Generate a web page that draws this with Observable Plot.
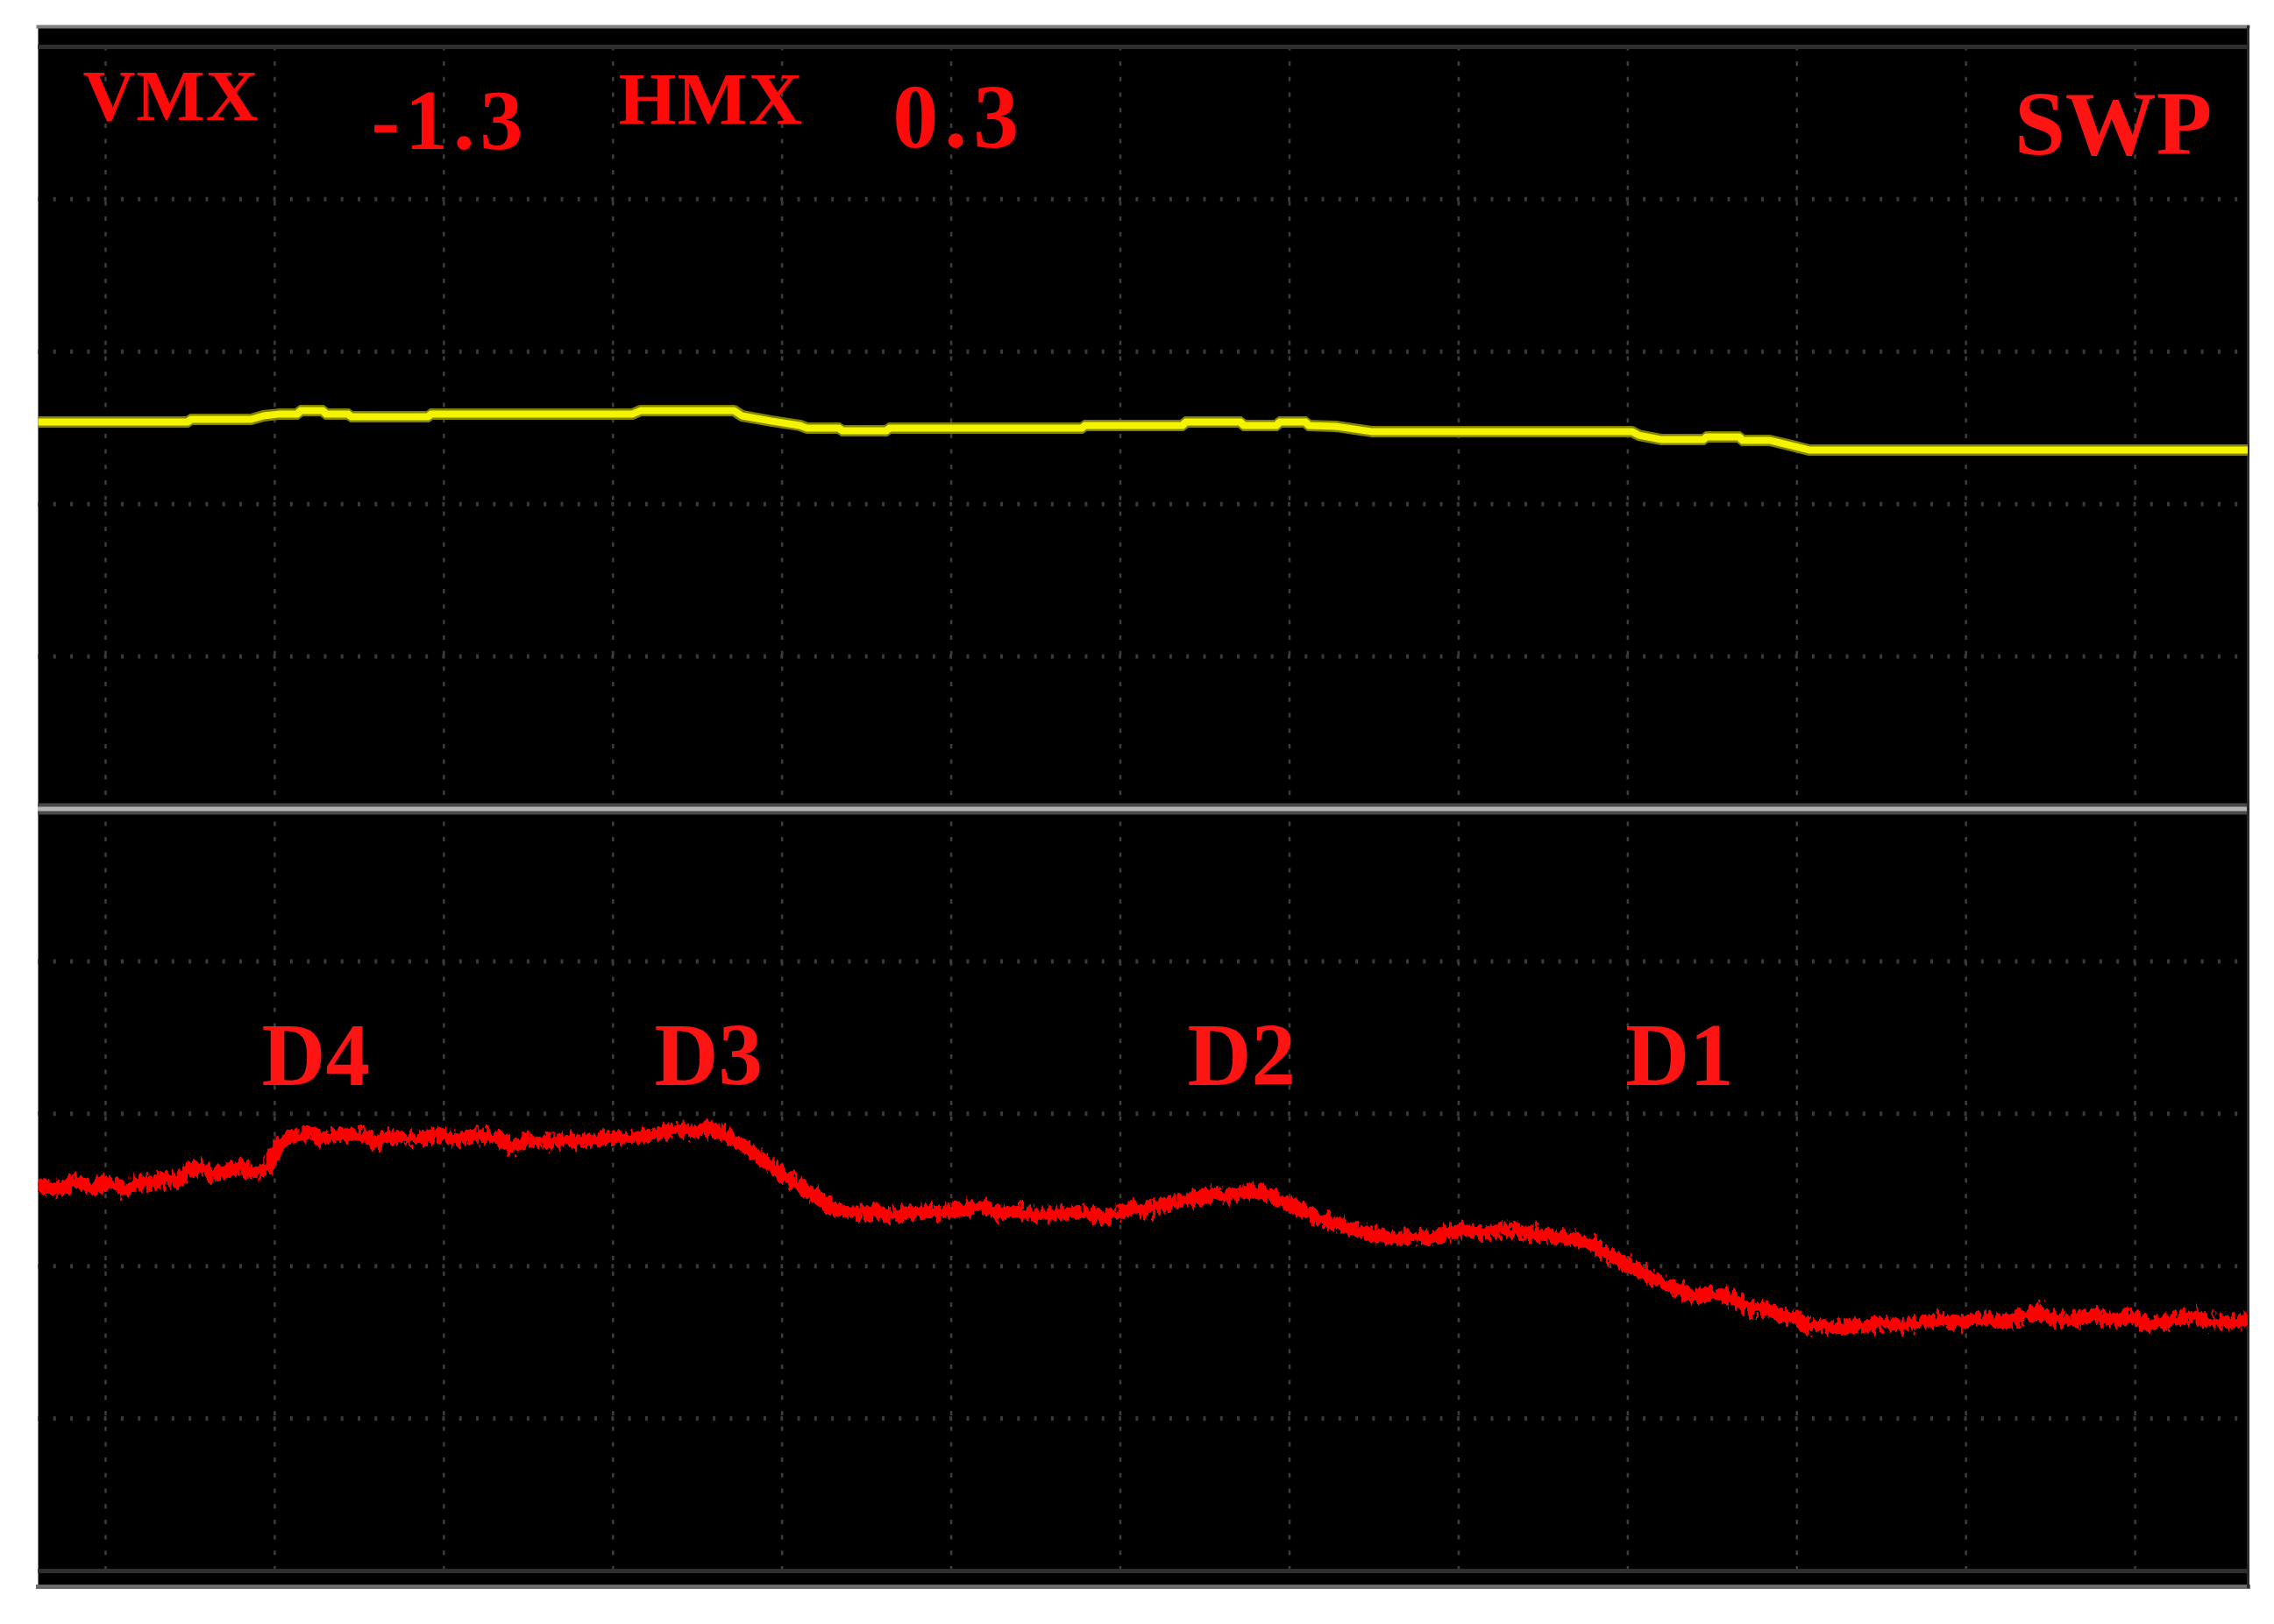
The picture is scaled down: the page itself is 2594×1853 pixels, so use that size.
<!DOCTYPE html>
<html>
<head>
<meta charset="utf-8">
<script src="https://cdn.jsdelivr.net/npm/d3@7"></script>
<script src="https://cdn.jsdelivr.net/npm/@observablehq/plot@0.6"></script>
<style>
  html, body { margin: 0; padding: 0; background: #ffffff; }
  #chart svg { display: block; }
</style>
</head>
<body>
<div id="chart"></div>
<script>
// Screen units: x and y in oscilloscope divisions (grid lines at integers)
const xDomain = [-0.399, 12.668];
const yDomain = [-0.1035, 10.132];
const xGrid = [0,1,2,3,4,5,6,7,8,9,10,11,12];
const yGrid = [1,2,3,4,6,7,8,9];

// Yellow trace (upper channel)
const yellowX = [-0.399,0.492,0.498,0.860,0.933,1.031,1.140,1.146,1.291,1.296,1.441,1.446,1.913,1.918,3.115,3.162,3.716,3.763,3.934,4.105,4.146,4.343,4.349,4.623,4.628,5.779,5.784,6.375,6.380,6.717,6.722,6.930,6.935,7.101,7.106,7.272,7.484,9.024,9.065,9.195,9.454,9.459,9.666,9.671,9.838,9.967,10.071,12.667];
const yellowY = [7.539,7.539,7.556,7.556,7.579,7.591,7.591,7.613,7.613,7.591,7.591,7.573,7.573,7.591,7.591,7.613,7.613,7.579,7.545,7.516,7.499,7.499,7.481,7.481,7.499,7.499,7.516,7.516,7.539,7.539,7.516,7.516,7.539,7.539,7.516,7.510,7.476,7.476,7.452,7.424,7.424,7.441,7.441,7.418,7.418,7.384,7.355,7.355];

// Red trace (lower channel)
const redX = [-0.399,-0.301,-0.171,-0.083,0,0.109,0.197,0.280,0.368,0.409,0.472,0.560,0.622,0.710,0.798,0.860,0.928,0.980,1.031,1.099,1.161,1.213,1.270,1.353,1.441,1.550,1.591,1.653,1.762,1.871,1.980,2.084,2.172,2.301,2.410,2.514,2.602,2.731,2.814,2.954,3.115,3.239,3.374,3.473,3.545,3.602,3.675,3.758,3.846,3.939,4.022,4.105,4.193,4.260,4.323,4.431,4.535,4.665,4.768,4.872,4.965,5.079,5.178,5.287,5.395,5.494,5.608,5.753,5.909,5.986,6.085,6.116,6.220,6.328,6.437,6.546,6.634,6.759,6.867,6.971,7.075,7.184,7.292,7.401,7.505,7.614,7.723,7.826,7.930,8.039,8.137,8.257,8.370,8.469,8.578,8.682,8.785,8.894,9.003,9.112,9.226,9.319,9.407,9.511,9.615,9.708,9.811,9.889,9.982,10.050,10.143,10.257,10.371,10.511,10.625,10.739,10.879,10.993,11.061,11.174,11.289,11.429,11.496,11.610,11.750,11.864,11.978,12.092,12.206,12.346,12.434,12.553,12.667];
const redY = [2.542,2.501,2.559,2.513,2.559,2.501,2.553,2.542,2.588,2.542,2.616,2.657,2.599,2.628,2.657,2.611,2.639,2.685,2.812,2.846,2.858,2.898,2.829,2.858,2.869,2.846,2.800,2.846,2.841,2.841,2.869,2.829,2.858,2.846,2.783,2.829,2.818,2.829,2.818,2.841,2.835,2.864,2.892,2.887,2.910,2.887,2.858,2.800,2.726,2.657,2.576,2.530,2.467,2.415,2.375,2.352,2.358,2.335,2.352,2.358,2.358,2.369,2.392,2.352,2.358,2.335,2.340,2.352,2.323,2.346,2.392,2.363,2.392,2.421,2.444,2.473,2.461,2.490,2.473,2.421,2.369,2.306,2.271,2.237,2.208,2.185,2.197,2.185,2.220,2.237,2.220,2.237,2.225,2.214,2.185,2.179,2.139,2.070,2.018,1.938,1.880,1.834,1.806,1.823,1.794,1.725,1.725,1.679,1.668,1.610,1.610,1.593,1.610,1.622,1.610,1.633,1.645,1.622,1.662,1.639,1.650,1.708,1.662,1.639,1.679,1.645,1.668,1.622,1.639,1.679,1.639,1.633,1.645];

// Peak labels on the lower trace
const peakLabels = ["D4","D3","D2","D1"];
const peakLabelX = [0.923,3.245,6.396,8.987];
const peakLabelY = [3.191,3.191,3.191,3.191];

// Screen readouts
const readoutText = ["VMX","-1.3","HMX","0.3"];
const readoutX = [-0.135,1.570,3.032,4.654];
const readoutY = [9.517,9.330,9.488,9.340];
const readoutSize = [83,98,85,104];
const readoutSpacing = [1,6,1,7];
const modeText = ["SWP"];
const modeX = [12.455];
const modeY = [9.298];

const yellow = yellowX.map((x,i)=>({x, y: yellowY[i]}));
const red = redX.map((x,i)=>({x, y: redY[i]}));
const peaks = peakLabels.map((t,i)=>({t, x: peakLabelX[i], y: peakLabelY[i]}));
const readouts = readoutText.map((t,i)=>({t, x: readoutX[i], y: readoutY[i], s: readoutSize[i]}));
const modes = modeText.map((t,i)=>({t, x: modeX[i], y: modeY[i]}));

const serif = "'Liberation Serif', 'Times New Roman', serif";

const chart = Plot.plot({
  width: 2594,
  height: 1853,
  marginLeft: 43,
  marginRight: 30,
  marginTop: 30,
  marginBottom: 43,
  x: {domain: xDomain, axis: null},
  y: {domain: yDomain, axis: null},
  style: {background: "#ffffff"},
  marks: [
    Plot.frame({fill: "#000000"}),
    // grid
    Plot.ruleX(xGrid, {y1: 0, y2: 10, stroke: "#3d3d3d", strokeWidth: 2.5, strokeDasharray: "5,12.7"}),
    Plot.ruleY(yGrid, {x1: xDomain[0], x2: xDomain[1], stroke: "#3a3a3a", strokeWidth: 5, strokeDasharray: "3,16.29", strokeDashoffset: 1.5}),
    Plot.ruleY([0, 10], {stroke: "#2f2f2f", strokeWidth: 5}),
    Plot.ruleY([5], {stroke: "#4a4a4a", strokeWidth: 13}),
    Plot.ruleY([5], {stroke: "#b4b4b4", strokeWidth: 5}),
    Plot.frame({anchor: "top", stroke: "#7e7e7e", strokeWidth: 4}),
    Plot.frame({anchor: "bottom", stroke: "#6c6c6c", strokeWidth: 5}),
    Plot.frame({anchor: "right", stroke: "#2c2c2c", strokeWidth: 3}),
    // traces
    Plot.line(yellow, {x: "x", y: "y", stroke: "#858400", strokeWidth: 13, strokeLinejoin: "miter", strokeLinecap: "butt", curve: "linear", clip: true}),
    Plot.line(yellow, {x: "x", y: "y", stroke: "#f4f400", strokeWidth: 8, strokeLinejoin: "miter", strokeLinecap: "butt", curve: "linear", clip: true}),
    Plot.line(red, {x: "x", y: "y", stroke: "#ff0000", strokeWidth: 15, strokeLinejoin: "bevel", strokeLinecap: "butt", curve: "linear", clip: true}),
    // text
    Plot.text(peaks, {x: "x", y: "y", text: "t", textAnchor: "start", lineAnchor: "bottom", fill: "#ff1414", fontSize: 101, fontWeight: "bold", fontFamily: serif}),
    Plot.text(readouts, {x: "x", y: "y", text: "t", textAnchor: "start", lineAnchor: "bottom", fill: "#ff0a0a", fontSize: d => d.s, fontWeight: "bold", fontFamily: serif}),
    Plot.text(modes, {x: "x", y: "y", text: "t", textAnchor: "end", lineAnchor: "bottom", fill: "#ff1414", fontSize: 104, fontWeight: "bold", fontFamily: serif})
  ]
});

// Oscilloscope trace noise look (visual filter only)
const ns = "http://www.w3.org/2000/svg";
const defs = document.createElementNS(ns, "defs");
const filter = document.createElementNS(ns, "filter");
filter.setAttribute("id", "scopeNoise");
filter.setAttribute("x", "-2%");
filter.setAttribute("y", "-20%");
filter.setAttribute("width", "104%");
filter.setAttribute("height", "140%");
filter.setAttribute("color-interpolation-filters", "sRGB");
const turb = document.createElementNS(ns, "feTurbulence");
turb.setAttribute("type", "fractalNoise");
turb.setAttribute("baseFrequency", "0.22 0.09");
turb.setAttribute("numOctaves", "2");
turb.setAttribute("seed", "7");
turb.setAttribute("result", "t");
const cm = document.createElementNS(ns, "feColorMatrix");
cm.setAttribute("in", "t");
cm.setAttribute("type", "matrix");
cm.setAttribute("values", "0 0 0 0 0.5  1 0 0 0 0  0 0 0 0 0  0 0 0 0 1");
cm.setAttribute("result", "m");
const disp = document.createElementNS(ns, "feDisplacementMap");
disp.setAttribute("in", "SourceGraphic");
disp.setAttribute("in2", "m");
disp.setAttribute("scale", "22");
disp.setAttribute("xChannelSelector", "R");
disp.setAttribute("yChannelSelector", "G");
filter.appendChild(turb);
filter.appendChild(cm);
filter.appendChild(disp);
defs.appendChild(filter);
chart.insertBefore(defs, chart.firstChild);

const lineGroups = chart.querySelectorAll('g[aria-label="line"]');
const redG = lineGroups[lineGroups.length - 1];
if (redG) {
  // wrap so the frame clip applies after the noise filter
  const wrap = document.createElementNS(ns, "g");
  redG.parentNode.insertBefore(wrap, redG);
  wrap.appendChild(redG);
  const inner = document.createElementNS(ns, "g");
  inner.setAttribute("filter", "url(#scopeNoise)");
  while (redG.firstChild) inner.appendChild(redG.firstChild);
  redG.appendChild(inner);
}
const textGroups = chart.querySelectorAll('g[aria-label="text"]');
if (textGroups[1]) textGroups[1].querySelectorAll("text").forEach((el, i) => el.setAttribute("letter-spacing", readoutSpacing[i]));

document.getElementById("chart").appendChild(chart);
</script>
</body>
</html>
